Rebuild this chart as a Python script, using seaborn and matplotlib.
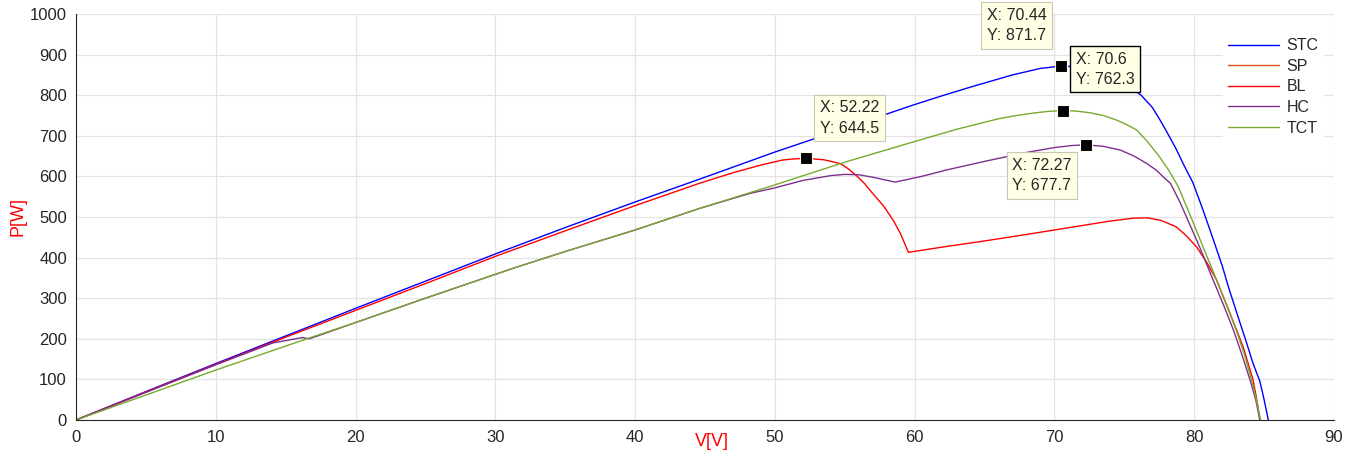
# P-V curves of the PV array under shading, one curve per configuration
import matplotlib
matplotlib.use('Agg')
import matplotlib.pyplot as plt
import seaborn as sns

# Reading the curves off the figure (V in volts, P in watts)
stc_v = [0, 5, 10, 15, 20, 25, 30, 35, 40, 45, 50, 55, 57, 60, 62, 64, 66, 67, 68, 69, 70.44, 71, 72, 73, 74,
         75, 76.2, 77, 77.5, 78, 78.7, 79.3, 79.9, 80.6, 81.35, 82, 82.5, 83.1, 83.7, 84.2, 84.7, 85.0, 85.3]
stc_p = [0, 70, 139, 207, 275, 342, 409, 474, 537, 598, 660, 718, 742, 777, 799, 820, 840, 850, 858, 866, 871.7,
         871, 867, 859, 848, 830, 800, 770, 742, 712, 668, 625, 585, 520, 446, 380, 322, 258, 195, 140, 95, 50, 0]

tct_v = [0, 10, 16.6, 20, 25, 31.3, 35, 40, 44.6, 49.9, 55, 60.4, 63, 66, 67.3, 68.5, 69.5, 70.6, 71.5, 72.5,
         73.5, 74.5, 75.2, 75.9, 76.7, 77.5, 78.2, 78.85, 79.4, 80.0, 80.8, 81.6, 82.3, 83.0, 83.6, 84.1, 84.45,
         84.75]
tct_p = [0, 123, 201, 240, 300, 374, 415, 468, 521, 578, 635, 690, 716, 742, 750, 756, 760, 762.3, 761, 757,
         750, 738, 727, 714, 684, 649, 614, 575, 530, 480, 412, 345, 284, 222, 160, 98, 50, 0]

# SP is not visible in the figure: it lies under the TCT curve
sp_v = list(tct_v)
sp_p = list(tct_p)

bl_v = [0, 5, 10, 15, 20, 25, 30, 35, 40, 44.6, 47, 49, 50.5, 51.3, 52.22, 53.5, 54.65, 55.2, 55.8, 56.4, 57.0,
        57.8, 58.5, 59.0, 59.55, 62, 65, 68, 71.8, 74, 75.6, 76.6, 77.6, 78.7, 79.4, 80.2, 80.9, 81.6, 82.5,
        83.5, 84.2, 84.45, 84.7]
bl_p = [0, 69, 137, 204, 270, 336, 403, 466, 528, 583, 609, 628, 640, 643, 644.5, 641, 632, 620, 603, 583, 558,
        526, 490, 458, 413, 426, 441, 457, 478, 490, 497, 498, 492, 476, 455, 425, 388, 345, 268, 180, 100,
        55, 0]

hc_v = [0, 5, 10, 14.1, 16.2, 16.7, 20, 25, 31.3, 35, 40, 44.6, 48.2, 49.9, 52, 54, 55, 56, 57, 58.6, 60.5,
        62.3, 65, 68, 70, 71.2, 72.27, 73.5, 74.7, 75.7, 76.6, 77.3, 77.9, 78.3, 79.0, 79.6, 80.4, 81.35, 82.1,
        82.8, 83.4, 84.0, 84.4, 84.7]
hc_p = [0, 68, 136, 190, 203, 200, 240, 300, 374, 415, 468, 521, 558, 571, 590, 602, 605, 604, 598, 586, 600,
        616, 637, 659, 671, 676, 677.7, 674, 665, 650, 632, 615, 595, 583, 535, 488, 425, 345, 283, 222, 162,
        98, 50, 0]

configs = ['STC', 'SP', 'BL', 'HC', 'TCT']
colors = ['#0000ff', '#d95319', '#ff0000', '#7e2f8e', '#77ac30']
curves = [(stc_v, stc_p), (sp_v, sp_p), (bl_v, bl_p), (hc_v, hc_p), (tct_v, tct_p)]

# Datatips shown on the figure: (V, P, text offset in pixels, highlighted)
tips = [(70.44, 871.7, (-74, 58), False),
        (70.6, 762.3, (13, 59), True),
        (52.22, 644.5, (14, 58), False),
        (72.27, 677.7, (-74, -13), False)]

sns.set_style('white')
plt.rcParams['font.family'] = ['Liberation Sans', 'DejaVu Sans']

fig = plt.figure(figsize=(13.57, 4.54), dpi=100)
ax = fig.add_axes([76 / 1357, 34 / 454, 1258 / 1357, 406 / 454])

for name, color, (v, p) in zip(configs, colors, curves):
    # SP sits exactly under TCT, keep it very thin so it stays hidden
    lw = 0.1 if name == 'SP' else 1.0
    sns.lineplot(x=v, y=p, color=color, label=name, sort=False, estimator=None,
                 linewidth=lw, ax=ax)

ax.set_xlim(0, 90)
ax.set_ylim(0, 1000)
ax.set_xticks(range(0, 91, 10))
ax.set_yticks(range(0, 1001, 100))
ax.grid(True, color='#e3e3e3', linewidth=0.9)
ax.set_axisbelow(True)
ax.tick_params(direction='in', length=9, width=0.8, colors='#262626', labelsize=12)
ax.tick_params(axis='x', pad=7.5)
ax.tick_params(axis='y', pad=6.5)
for side in ['top', 'right']:
    ax.spines[side].set_visible(False)
for side in ['left', 'bottom']:
    ax.spines[side].set_color('#262626')
    ax.spines[side].set_linewidth(0.8)

ax.set_xlabel('V[V]', color='red', fontsize=13)
ax.set_ylabel('P[W]', color='red', fontsize=13)
ax.xaxis.set_label_coords(0.5056, -0.032)
ax.yaxis.set_label_coords(-0.039, 0.5)

# Datatips: black square marker plus a pale yellow label box
for x, y, off, selected in tips:
    ax.plot([x], [y], marker='s', color='black', markersize=8, markeredgecolor='#fffff0',
            markeredgewidth=0.8, zorder=5, clip_on=False)
    ax.annotate(f'X: {x:g}\nY: {y:g}', xy=(x, y), xytext=off, textcoords='offset pixels',
                ha='left', va='top', fontsize=11.5, color='#262626', linespacing=1.45,
                bbox=dict(boxstyle='square,pad=0.35', facecolor='#ffffe6',
                          edgecolor='black' if selected else '#c8c8b4', linewidth=1.0 if selected else 0.8),
                zorder=6, annotation_clip=False)

leg = ax.legend(loc='upper right', bbox_to_anchor=(0.998, 0.972), fontsize=11.5,
                frameon=True, facecolor='white', edgecolor='white', framealpha=1,
                handlelength=3.2, labelspacing=0.35, borderpad=0.3, handletextpad=0.5)
for line in leg.get_lines():
    line.set_linewidth(1.0)

fig.savefig('out.png', dpi=100)
